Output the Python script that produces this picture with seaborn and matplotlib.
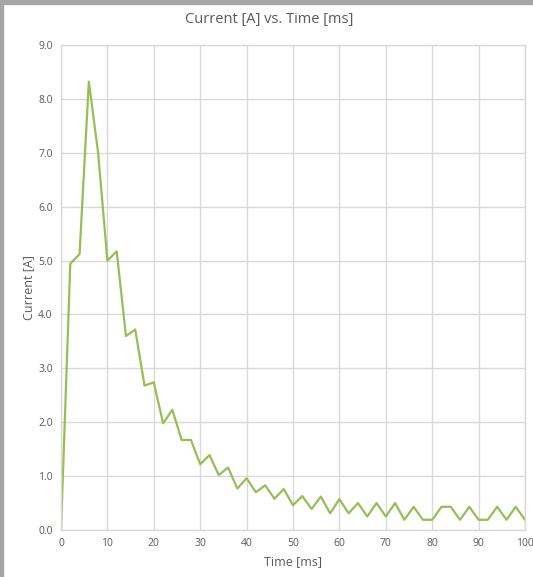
import matplotlib
matplotlib.use("Agg")
import matplotlib.pyplot as plt
import seaborn as sns
import pandas as pd
from matplotlib.patches import Rectangle

# --- data ---
time_ms = list(range(0, 101, 2))
current_a = [
    0.00, 4.94, 5.12, 8.32, 7.00, 5.00, 5.17, 3.60, 3.72, 2.68,
    2.74, 1.98, 2.23, 1.67, 1.67, 1.22, 1.39, 1.02, 1.16, 0.77,
    0.96, 0.70, 0.83, 0.58, 0.76, 0.46, 0.63, 0.39, 0.62, 0.31,
    0.57, 0.31, 0.50, 0.25, 0.50, 0.25, 0.50, 0.19, 0.43, 0.19,
    0.19, 0.43, 0.43, 0.19, 0.43, 0.19, 0.19, 0.43, 0.19, 0.43,
    0.19,
]
x_ticks = list(range(0, 101, 10))
y_ticks = [0.0, 1.0, 2.0, 3.0, 4.0, 5.0, 6.0, 7.0, 8.0, 9.0]

df = pd.DataFrame({"Time [ms]": time_ms, "Current [A]": current_a})

sns.set_style("white")
plt.rcParams["font.family"] = ["Open Sans", "DejaVu Sans"]

text_gray = "#595959"
grid_gray = "#D9D9D9"

fig = plt.figure(figsize=(5.33, 5.77), dpi=100)
ax = fig.add_axes([61 / 533, 1 - 530 / 577, 464 / 533, 485 / 577])

sns.lineplot(data=df, x="Time [ms]", y="Current [A]", ax=ax,
             color="#96BE55", linewidth=1.6)

ax.set_xlim(0, 100)
ax.set_ylim(0, 9)
ax.set_xticks(x_ticks)
ax.set_yticks(y_ticks)
ax.set_yticklabels([f"{v:.1f}" for v in y_ticks])
ax.grid(True, color=grid_gray, linewidth=1.0)
ax.set_axisbelow(True)
for s in ax.spines.values():
    s.set_color(grid_gray)
    s.set_linewidth(1.0)
ax.tick_params(length=0, labelsize=7.5, labelcolor=text_gray, pad=6)

ax.set_xlabel("Time [ms]", fontsize=9, color=text_gray, labelpad=4)
ax.set_ylabel("Current [A]", fontsize=9, color=text_gray, labelpad=2)
fig.text(269 / 533, 1 - 20 / 577, "Current [A] vs. Time [ms]",
         ha="center", va="center", fontsize=10.5, color=text_gray)

# window frame bits seen in the screenshot
fig.patches.append(Rectangle((0, 1 - 4 / 577), 1, 4 / 577,
                             transform=fig.transFigure, color="#A6A6A6"))
fig.patches.append(Rectangle((0, 0), 3 / 533, 1,
                             transform=fig.transFigure, color="#A6A6A6"))

fig.savefig("out.png", dpi=100)
